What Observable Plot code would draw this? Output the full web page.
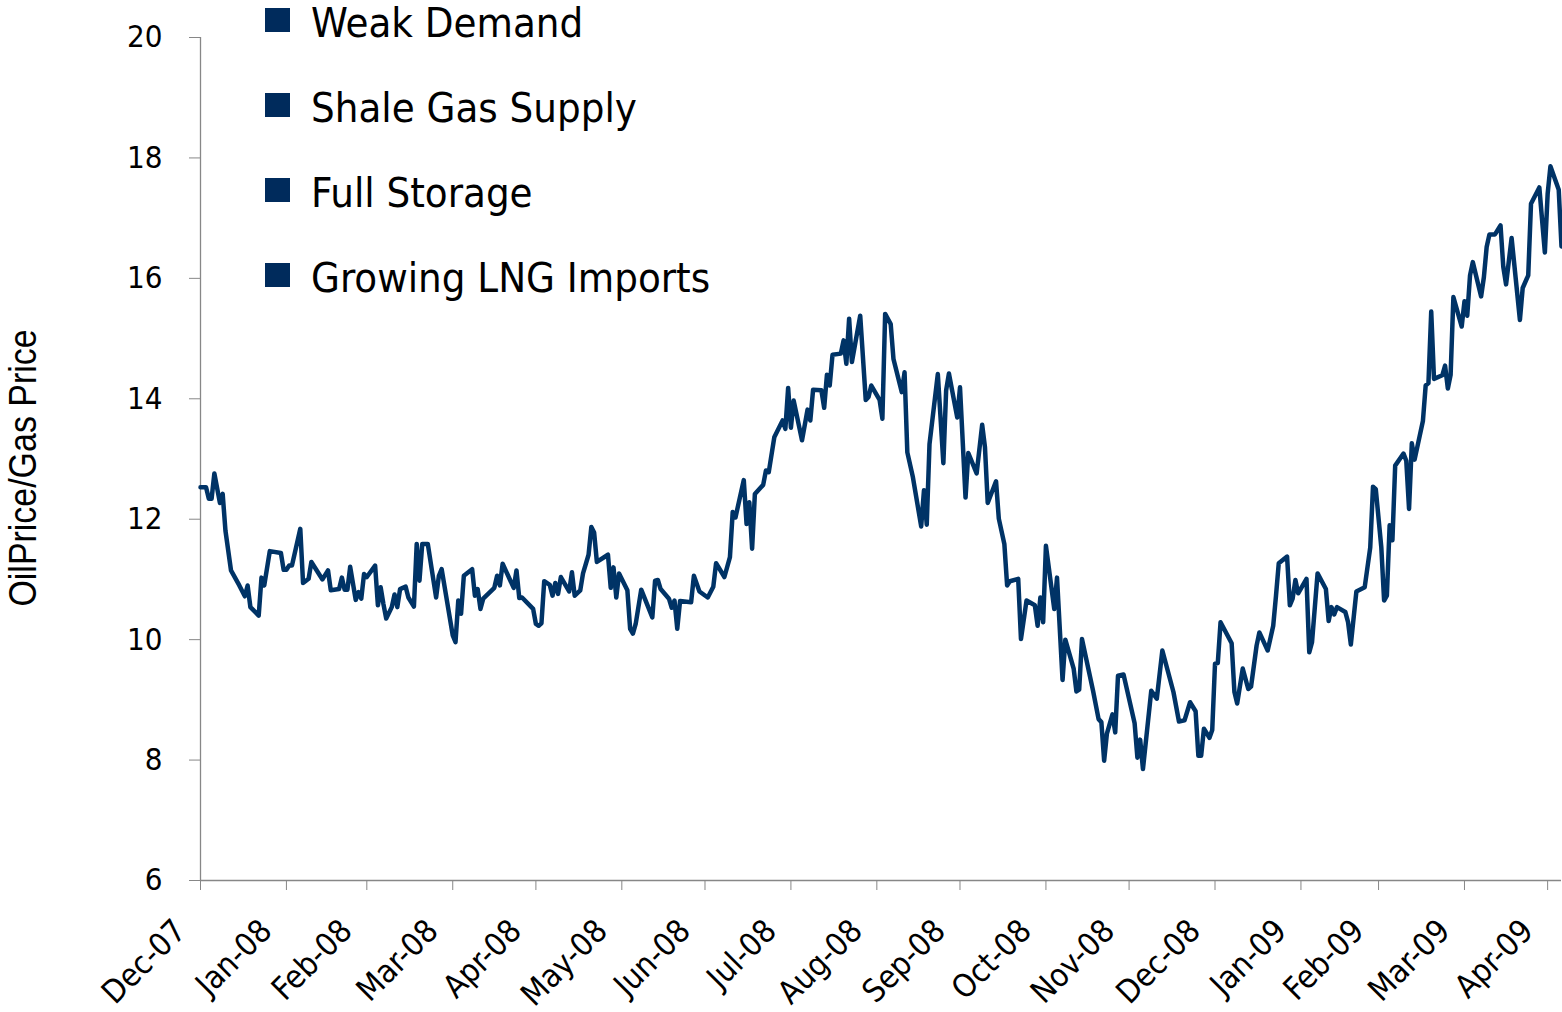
<!DOCTYPE html>
<html>
<head>
<meta charset="utf-8">
<script src="https://cdn.jsdelivr.net/npm/d3@7"></script>
<script src="https://cdn.jsdelivr.net/npm/@observablehq/plot@0.6"></script>
<style>
  html, body { margin: 0; padding: 0; background: #fff; }
  #wrap { position: relative; width: 1562px; height: 1012px; overflow: hidden; }
  #chart { position: absolute; left: 0; top: 0; }
  .legend-item { position: absolute; left: 265px; height: 46px; white-space: nowrap; }
  .legend-swatch { position: absolute; left: 0; top: 8px; width: 25px; height: 24px; background: #002b5c; }
  .legend-text { position: absolute; left: 46px; top: 0; font-family: "DejaVu Sans Condensed", "Noto Sans", sans-serif; font-size: 41.5px; line-height: 46px; color: #000; }
  #ylabel { position: absolute; left: 22px; top: 468px; transform: translate(-50%, -50%) rotate(-90deg) scaleX(0.87); white-space: nowrap;
            font-family: "Liberation Sans Narrow", "Liberation Sans", sans-serif; font-size: 39px; line-height: 39px; color: #000; }
</style>
</head>
<body>
<div id="wrap">
  <div id="chart"></div>
  <div id="legend"></div>
  <div id="ylabel"></div>
</div>
<script>
// ---- Data ----
const dates = [
"2007-12-31","2008-01-02","2008-01-03","2008-01-04","2008-01-05","2008-01-07","2008-01-08","2008-01-09","2008-01-11","2008-01-14",
"2008-01-16","2008-01-17","2008-01-18","2008-01-21","2008-01-22","2008-01-23","2008-01-25","2008-01-29","2008-01-30","2008-01-31",
"2008-02-01","2008-02-02","2008-02-05","2008-02-06","2008-02-08","2008-02-09","2008-02-13","2008-02-15","2008-02-16","2008-02-19",
"2008-02-20","2008-02-21","2008-02-22","2008-02-23","2008-02-25","2008-02-26","2008-02-27","2008-02-28","2008-02-29","2008-03-03",
"2008-03-04","2008-03-05","2008-03-06","2008-03-07","2008-03-09","2008-03-10","2008-03-11","2008-03-12","2008-03-14","2008-03-15",
"2008-03-17","2008-03-18","2008-03-19","2008-03-20","2008-03-22","2008-03-25","2008-03-26","2008-03-27","2008-03-31","2008-04-01",
"2008-04-02","2008-04-03","2008-04-04","2008-04-07","2008-04-08","2008-04-09","2008-04-10","2008-04-11","2008-04-15","2008-04-16",
"2008-04-17","2008-04-18","2008-04-22","2008-04-23","2008-04-24","2008-04-25","2008-04-29","2008-04-30","2008-05-01","2008-05-02",
"2008-05-03","2008-05-05","2008-05-06","2008-05-07","2008-05-08","2008-05-09","2008-05-12","2008-05-13","2008-05-14","2008-05-16",
"2008-05-17","2008-05-19","2008-05-20","2008-05-21","2008-05-22","2008-05-26","2008-05-27","2008-05-28","2008-05-29","2008-05-30",
"2008-06-02","2008-06-03","2008-06-04","2008-06-05","2008-06-07","2008-06-11","2008-06-12","2008-06-13","2008-06-14","2008-06-17",
"2008-06-18","2008-06-19","2008-06-20","2008-06-21","2008-06-25","2008-06-26","2008-06-28","2008-07-01","2008-07-03","2008-07-04",
"2008-07-07","2008-07-09","2008-07-10","2008-07-11","2008-07-14","2008-07-15","2008-07-16","2008-07-17","2008-07-18","2008-07-21",
"2008-07-22","2008-07-23","2008-07-25","2008-07-28","2008-07-29","2008-07-30","2008-07-31","2008-08-01","2008-08-04","2008-08-06",
"2008-08-07","2008-08-08","2008-08-11","2008-08-12","2008-08-13","2008-08-14","2008-08-15","2008-08-18","2008-08-19","2008-08-20",
"2008-08-21","2008-08-22","2008-08-25","2008-08-27","2008-08-28","2008-08-29","2008-09-01","2008-09-02","2008-09-03","2008-09-05",
"2008-09-06","2008-09-09","2008-09-10","2008-09-11","2008-09-13","2008-09-16","2008-09-17","2008-09-18","2008-09-19","2008-09-22",
"2008-09-24","2008-09-25","2008-09-26","2008-09-29","2008-09-30","2008-10-02","2008-10-03","2008-10-06","2008-10-08","2008-10-09",
"2008-10-10","2008-10-13","2008-10-14","2008-10-16","2008-10-17","2008-10-18","2008-10-21","2008-10-22","2008-10-24","2008-10-27",
"2008-10-28","2008-10-29","2008-10-30","2008-10-31","2008-11-03","2008-11-04","2008-11-06","2008-11-07","2008-11-10","2008-11-11",
"2008-11-12","2008-11-13","2008-11-17","2008-11-19","2008-11-20","2008-11-21","2008-11-22","2008-11-24","2008-11-25","2008-11-26",
"2008-11-28","2008-12-02","2008-12-03","2008-12-04","2008-12-05","2008-12-08","2008-12-10","2008-12-12","2008-12-16","2008-12-18",
"2008-12-20","2008-12-22","2008-12-24","2008-12-25","2008-12-26","2008-12-27","2008-12-29","2008-12-30","2008-12-31","2009-01-01",
"2009-01-02","2009-01-06","2009-01-07","2009-01-08","2009-01-10","2009-01-12","2009-01-13","2009-01-15","2009-01-16","2009-01-19",
"2009-01-21","2009-01-22","2009-01-23","2009-01-26","2009-01-27","2009-01-28","2009-01-29","2009-01-30","2009-02-02","2009-02-03",
"2009-02-04","2009-02-06","2009-02-09","2009-02-10","2009-02-11","2009-02-12","2009-02-13","2009-02-16","2009-02-17","2009-02-18",
"2009-02-20","2009-02-23","2009-02-25","2009-02-26","2009-02-27","2009-03-01","2009-03-02","2009-03-03","2009-03-04","2009-03-05",
"2009-03-06","2009-03-09","2009-03-10","2009-03-11","2009-03-12","2009-03-13","2009-03-16","2009-03-17","2009-03-18","2009-03-19",
"2009-03-20","2009-03-23","2009-03-24","2009-03-25","2009-03-26","2009-03-27","2009-03-30","2009-03-31","2009-04-01","2009-04-02",
"2009-04-03","2009-04-06","2009-04-07","2009-04-08","2009-04-09","2009-04-11","2009-04-13","2009-04-14","2009-04-15","2009-04-17",
"2009-04-20","2009-04-21","2009-04-23","2009-04-24","2009-04-27","2009-04-29","2009-04-30","2009-05-01","2009-05-04","2009-05-05"
];
const values = [
12.53,12.53,12.34,12.34,12.76,12.27,12.42,11.81,11.15,10.90,
10.72,10.90,10.54,10.40,11.03,10.90,11.47,11.44,11.16,11.16,
11.23,11.23,11.84,10.94,11.01,11.29,11.00,11.15,10.82,10.84,
11.03,10.83,10.83,11.21,10.66,10.79,10.68,11.09,11.04,11.23,
10.57,10.87,10.59,10.35,10.54,10.75,10.54,10.84,10.88,10.70,
10.55,11.59,10.98,11.59,11.59,10.70,11.06,11.17,10.07,9.96,
10.65,10.43,11.06,11.17,10.73,10.84,10.51,10.68,10.86,11.06,
10.90,11.26,10.86,11.15,10.69,10.70,10.51,10.26,10.23,10.27,
10.97,10.91,10.73,10.94,10.76,11.04,10.80,11.12,10.73,10.82,
11.10,11.41,11.87,11.78,11.29,11.41,10.86,11.20,10.70,11.10,
10.82,10.18,10.10,10.26,10.83,10.37,10.98,10.99,10.84,10.68,
10.53,10.65,10.18,10.64,10.62,11.06,10.80,10.70,10.88,11.27,
11.04,11.37,12.12,12.03,12.65,11.92,12.28,11.51,12.42,12.57,
12.81,12.78,13.36,13.64,13.50,14.18,13.52,13.97,13.31,13.82,
13.64,14.15,14.14,13.85,14.40,14.22,14.73,14.75,14.97,14.58,
15.33,14.61,15.38,13.98,14.03,14.22,13.98,13.67,15.41,15.24,
14.66,14.11,14.44,13.11,12.70,11.88,12.48,11.91,13.25,14.41,
12.93,14.14,14.42,13.69,14.19,12.36,13.10,12.76,13.57,13.20,
12.27,12.63,12.01,11.59,10.90,10.97,11.01,10.01,10.65,10.57,
10.23,10.70,10.29,11.56,10.51,11.03,9.33,10.00,9.52,9.14,
9.17,10.01,9.15,8.68,8.63,7.99,8.44,8.76,8.46,9.40,
9.42,8.61,8.04,8.34,7.85,9.15,9.02,9.82,9.13,8.64,
8.66,8.96,8.81,8.07,8.07,8.52,8.37,8.50,9.60,9.61,
10.29,9.94,9.13,8.94,9.52,9.18,9.22,9.90,10.12,9.82,
10.23,10.73,11.27,11.38,10.57,10.68,10.99,10.77,11.01,9.79,
9.96,11.10,10.84,10.31,10.54,10.42,10.54,10.46,10.29,9.92,
10.80,10.87,11.53,12.54,12.50,11.53,10.65,10.73,11.90,11.65,
12.89,13.09,12.97,12.17,13.26,12.99,13.63,14.22,14.26,15.45,
14.33,14.39,14.55,14.17,14.40,15.69,15.20,15.62,15.38,16.05,
16.27,15.70,16.02,16.52,16.73,16.73,16.88,16.19,15.90,16.67,
15.31,15.84,16.05,17.24,17.51,16.43,17.40,17.86,17.47,16.53
];
const xTickDates = ["2007-12-31","2008-01-31","2008-02-29","2008-03-31","2008-04-30","2008-05-31","2008-06-30","2008-07-31",
  "2008-08-31","2008-09-30","2008-10-31","2008-11-30","2008-12-31","2009-01-31","2009-02-28","2009-03-31","2009-04-30"];
const xDomain = ["2007-12-31", "2009-05-05"];
const yTicks = [6, 8, 10, 12, 14, 16, 18, 20];
const yDomain = [6, 20];
const legendLabels = ["Weak Demand", "Shale Gas Supply", "Full Storage", "Growing LNG Imports"];
const yAxisTitle = "OilPrice/Gas Price";

// ---- Build ----
const parse = s => new Date(s + "T00:00:00Z");
const series = dates.map((d, i) => ({date: parse(d), value: values[i]}));
const FONT = '"DejaVu Sans Condensed", "Noto Sans", sans-serif';
const AXIS = "#878787";
const xTicks = xTickDates.map(parse);

const chart = Plot.plot({
  width: 1562,
  height: 1012,
  marginLeft: 200,
  marginRight: 1,
  marginTop: 37,
  marginBottom: 132,
  style: {fontFamily: FONT, fontSize: "30px", color: "#000", background: "transparent"},
  x: {type: "utc", domain: xDomain.map(parse)},
  y: {domain: yDomain},
  marks: [
    Plot.ruleY([yDomain[0]], {stroke: AXIS, strokeWidth: 1.3}),
    Plot.ruleX([parse(xDomain[0])], {stroke: AXIS, strokeWidth: 1.3}),
    Plot.axisY({ticks: yTicks, tickSize: 11, tickPadding: 27, stroke: AXIS, fill: "#000", label: null, fontSize: 31}),
    // x tick marks only
    Plot.axisX({ticks: xTicks, tickFormat: () => "", tickSize: 10, stroke: AXIS, label: null}),
    // x tick labels, rotated
    Plot.axisX({ticks: xTicks, tickFormat: d3.utcFormat("%b-%y"), tickRotate: -45,
                tickSize: 0, tickPadding: 45, dx: -20, fill: "#000", label: null, fontSize: 32}),
    Plot.lineY(series, {x: "date", y: "value", stroke: "#003366", strokeWidth: 4.5, strokeLinejoin: "round"})
  ]
});
document.getElementById("chart").appendChild(chart);

const legend = document.getElementById("legend");
legendLabels.forEach((label, i) => {
  const item = document.createElement("div");
  item.className = "legend-item";
  item.style.top = (i * 85) + "px";
  item.innerHTML = '<div class="legend-swatch"></div><div class="legend-text"></div>';
  item.querySelector(".legend-text").textContent = label;
  legend.appendChild(item);
});
document.getElementById("ylabel").textContent = yAxisTitle;
</script>
</body>
</html>
